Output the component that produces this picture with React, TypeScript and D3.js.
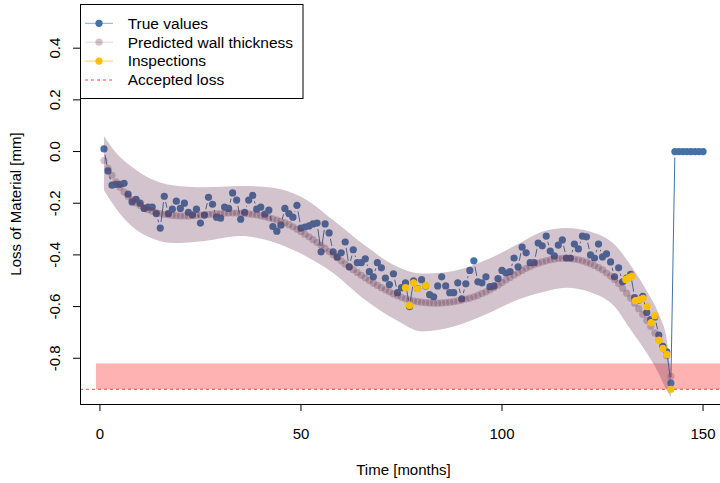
import * as d3 from 'd3';

// true wall loss, months 1..150
const trueValues = [
  0.01, -0.075, -0.13, -0.127, -0.127, -0.123, -0.165, -0.195, -0.185, -0.2,
  -0.22, -0.215, -0.215, -0.24, -0.296, -0.173, -0.24, -0.223, -0.192, -0.22,
  -0.2, -0.235, -0.245, -0.223, -0.277, -0.246, -0.177, -0.204, -0.254, -0.258,
  -0.215, -0.22, -0.16, -0.188, -0.262, -0.235, -0.188, -0.17, -0.223, -0.215,
  -0.242, -0.227, -0.29, -0.308, -0.285, -0.22, -0.24, -0.254, -0.208, -0.296,
  -0.292, -0.288, -0.28, -0.277, -0.388, -0.28, -0.315, -0.388, -0.408, -0.392,
  -0.35, -0.446, -0.38, -0.43, -0.43, -0.415, -0.465, -0.485, -0.43, -0.45,
  -0.49, -0.515, -0.473, -0.546, -0.527, -0.508, -0.6, -0.5, -0.53, -0.496,
  -0.52, -0.554, -0.562, -0.52, -0.485, -0.52, -0.546, -0.546, -0.508, -0.57,
  -0.512, -0.46, -0.423, -0.504, -0.508, -0.485, -0.523, -0.52, -0.492, -0.46,
  -0.47, -0.465, -0.412, -0.446, -0.37, -0.392, -0.43, -0.43, -0.354, -0.365,
  -0.327, -0.385, -0.404, -0.362, -0.342, -0.412, -0.412, -0.358, -0.377, -0.327,
  -0.33, -0.4, -0.412, -0.358, -0.408, -0.396, -0.427, -0.485, -0.45, -0.504,
  -0.49, -0.475, -0.565, -0.575, -0.56, -0.623, -0.65, -0.64, -0.71, -0.754,
  -0.775, -0.896, 0, 0, 0, 0, 0, 0, 0, 0,
];

// predicted wall thickness loss, months 1..142
const predicted = [
  -0.035, -0.065, -0.092, -0.117, -0.138, -0.157, -0.173, -0.187, -0.199, -0.209,
  -0.218, -0.225, -0.231, -0.236, -0.24, -0.243, -0.245, -0.247, -0.248, -0.249,
  -0.249, -0.249, -0.248, -0.247, -0.246, -0.245, -0.243, -0.242, -0.241, -0.24,
  -0.239, -0.238, -0.238, -0.238, -0.239, -0.24, -0.241, -0.243, -0.245, -0.248,
  -0.252, -0.256, -0.26, -0.265, -0.27, -0.276, -0.283, -0.291, -0.3, -0.31,
  -0.32, -0.33, -0.341, -0.352, -0.363, -0.375, -0.387, -0.399, -0.411, -0.423,
  -0.435, -0.446, -0.457, -0.468, -0.479, -0.489, -0.499, -0.509, -0.518, -0.527,
  -0.535, -0.543, -0.551, -0.558, -0.564, -0.57, -0.575, -0.578, -0.581, -0.583,
  -0.585, -0.586, -0.587, -0.587, -0.586, -0.585, -0.583, -0.581, -0.578, -0.575,
  -0.571, -0.567, -0.562, -0.557, -0.549, -0.543, -0.535, -0.526, -0.517, -0.507,
  -0.497, -0.487, -0.478, -0.469, -0.46, -0.452, -0.445, -0.438, -0.432, -0.427,
  -0.423, -0.419, -0.416, -0.414, -0.413, -0.413, -0.414, -0.416, -0.419, -0.423,
  -0.428, -0.434, -0.441, -0.449, -0.458, -0.47, -0.482, -0.495, -0.511, -0.529,
  -0.548, -0.567, -0.587, -0.608, -0.63, -0.653, -0.677, -0.702, -0.728, -0.757,
  -0.79, -0.87,
];

// prediction band edges
const bandTimes = [1, 4, 8, 12, 18, 26, 35, 43, 50, 58, 66, 74, 80, 88, 96, 104, 110, 116, 122, 128, 132, 136, 139, 141, 142];
const bandUpper = [0.06, -0.005, -0.06, -0.1, -0.13, -0.138, -0.133, -0.14, -0.175, -0.265, -0.365, -0.446, -0.472, -0.462, -0.42, -0.358, -0.31, -0.296, -0.31, -0.36, -0.44, -0.54, -0.63, -0.73, -0.85];
const bandLower = [-0.15, -0.22, -0.29, -0.33, -0.354, -0.346, -0.327, -0.35, -0.395, -0.47, -0.575, -0.655, -0.696, -0.677, -0.63, -0.573, -0.545, -0.527, -0.545, -0.6, -0.69, -0.78, -0.86, -0.925, -0.95];

const inspectionTimes = [76, 77, 78, 79, 81, 130.8, 131.6, 132.4, 133.2, 134.2, 135.1, 136.1, 137.1, 138, 139, 140, 141, 142];
const inspectionValues = [-0.527, -0.596, -0.508, -0.531, -0.519, -0.495, -0.488, -0.482, -0.577, -0.573, -0.568, -0.6, -0.662, -0.635, -0.73, -0.762, -0.785, -0.92];

const acceptedLoss = -0.92;
const toleranceTop = -0.82;

const xTicks = [0, 50, 100, 150];
const yTicks = [-0.8, -0.6, -0.4, -0.2, 0.0, 0.2, 0.4];

const legendItems = [
  { label: 'True values', kind: 'true' },
  { label: 'Predicted wall thickness', kind: 'pred' },
  { label: 'Inspections', kind: 'insp' },
  { label: 'Accepted loss', kind: 'acc' },
];

const BLUE = '#4272a8';
const MAUVE = 'rgb(105,55,85)';
const GOLD = '#FFBF00';
const FONT = '"Liberation Sans", Arial, Helvetica, sans-serif';

export default function App() {
  const W = 720, H = 483;
  const x = d3.scaleLinear().domain([-4.96, 155.96]).range([80, 727]);
  const y = d3.scaleLinear().domain([-0.977, 0.571]).range([404, 4]);
  const r = 3.6;

  const truePts = trueValues.map((v, i) => [x(i + 1), y(v)] as [number, number]);
  const predPts = predicted.map((v, i) => [x(i + 1), y(v)] as [number, number]);

  // type="b": segments with gaps round the points
  const gap = 6;
  const segs: string[] = [];
  for (let i = 0; i < truePts.length - 1; i++) {
    const [x0, y0] = truePts[i];
    const [x1, y1] = truePts[i + 1];
    const d = Math.hypot(x1 - x0, y1 - y0);
    if (d <= 2 * gap) continue;
    const ux = (x1 - x0) / d, uy = (y1 - y0) / d;
    segs.push(`M${x0 + ux * gap},${y0 + uy * gap}L${x1 - ux * gap},${y1 - uy * gap}`);
  }

  const area = d3.area<number>()
    .x((t) => x(t))
    .y0((_, i) => y(bandLower[i]))
    .y1((_, i) => y(bandUpper[i]))
    .curve(d3.curveMonotoneX);

  return (
    <svg width={W} height={H} style={{ position: 'absolute', left: 0, top: 0, background: '#fff' }} fontFamily={FONT}>
      <defs>
        <clipPath id="plotclip">
          <rect x={80} y={4} width={647} height={400} />
        </clipPath>
      </defs>
      <g clipPath="url(#plotclip)">
        <rect x={x(-1)} y={y(toleranceTop)} width={x(160) - x(-1)} height={y(acceptedLoss) - y(toleranceTop)} fill="red" fillOpacity={0.3} />
        <path d={segs.join('')} stroke={BLUE} strokeWidth={1} fill="none" />
        {truePts.map(([px, py], i) => (
          <circle key={'t' + i} cx={px} cy={py} r={r} fill={BLUE} />
        ))}
        <path d={area(bandTimes) || ''} fill={MAUVE} fillOpacity={0.3} />
        {predPts.map(([px, py], i) => (
          <circle key={'p' + i} cx={px} cy={py} r={r} fill={MAUVE} fillOpacity={0.3} />
        ))}
        <line x1={80} x2={727} y1={y(acceptedLoss)} y2={y(acceptedLoss)} stroke="red" strokeOpacity={0.75} strokeWidth={1} strokeDasharray="3,3" />
        {inspectionTimes.map((t, i) => (
          <circle key={'i' + i} cx={x(t)} cy={y(inspectionValues[i])} r={r} fill={GOLD} />
        ))}
      </g>

      {/* axes */}
      <line x1={80} x2={727} y1={404.5} y2={404.5} stroke="#000" />
      <line x1={80.5} x2={80.5} y1={4} y2={404} stroke="#000" />
      {xTicks.map((t) => (
        <g key={'xt' + t}>
          <line x1={x(t)} x2={x(t)} y1={404} y2={411} stroke="#000" />
          <text x={x(t)} y={439} fontSize={15} textAnchor="middle">{t}</text>
        </g>
      ))}
      {yTicks.map((t) => (
        <g key={'yt' + t}>
          <line x1={73} x2={80} y1={y(t)} y2={y(t)} stroke="#000" />
          <text transform={`translate(59.5,${y(t)}) rotate(-90)`} fontSize={15} textAnchor="middle">{t.toFixed(1)}</text>
        </g>
      ))}
      <text x={403.5} y={475} fontSize={15} textAnchor="middle">Time [months]</text>
      <text transform="translate(21,204) rotate(-90)" fontSize={15} textAnchor="middle">Loss of Material [mm]</text>

      {/* legend */}
      <rect x={80.5} y={4.5} width={222.5} height={94} fill="#fff" stroke="#000" />
      {legendItems.map((it, i) => {
        const cy = 23.3 + i * 18.9;
        return (
          <g key={it.kind}>
            {it.kind === 'true' && (<>
              <line x1={85} x2={113} y1={cy} y2={cy} stroke={BLUE} strokeOpacity={0.6} />
              <circle cx={99} cy={cy} r={r} fill={BLUE} />
            </>)}
            {it.kind === 'pred' && (<>
              <line x1={85} x2={113} y1={cy} y2={cy} stroke={MAUVE} strokeOpacity={0.2} />
              <circle cx={99} cy={cy} r={r} fill={MAUVE} fillOpacity={0.3} />
            </>)}
            {it.kind === 'insp' && (<>
              <line x1={85} x2={113} y1={cy} y2={cy} stroke={GOLD} strokeOpacity={0.7} />
              <circle cx={99} cy={cy} r={r} fill={GOLD} />
            </>)}
            {it.kind === 'acc' && (
              <line x1={85} x2={113} y1={cy} y2={cy} stroke="red" strokeOpacity={0.75} strokeDasharray="3,3" />
            )}
            <text x={127.7} y={cy + 5.3} fontSize={15.5}>{it.label}</text>
          </g>
        );
      })}
    </svg>
  );
}
